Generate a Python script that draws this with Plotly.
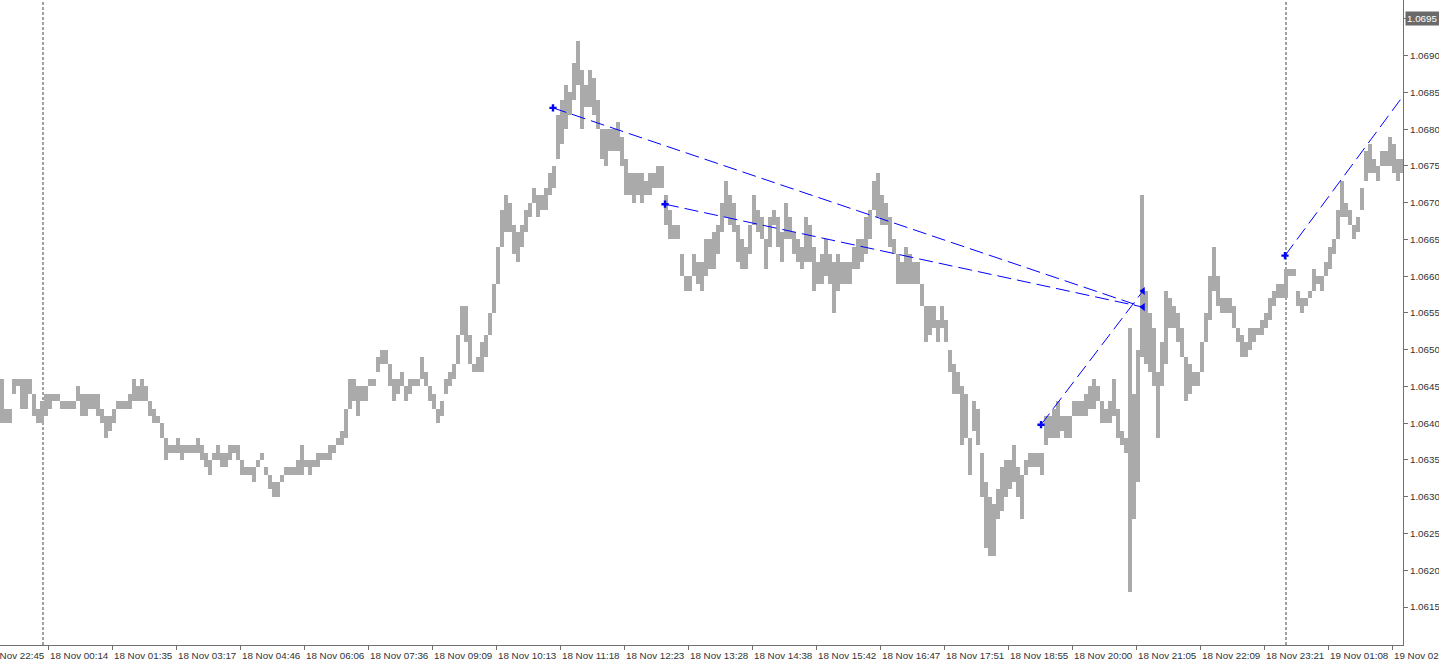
import plotly.graph_objects as go

# ---- data (one entry per 4-pixel group of M1 bars, prices) ----
HIGH = [
    1.0646, 1.0642, 1.0642, 1.0646, 1.0646, 1.0646, 1.0646, 1.0646, 1.0644, 1.0642,
    1.0643, 1.0644, 1.0644, 1.0644, 1.0644, 1.0643, 1.0643, 1.0643, 1.0643, 1.0645,
    1.0644, 1.0644, 1.0644, 1.0644, 1.0644, 1.0642, 1.0641, 1.0641, 1.0642, 1.0643,
    1.0643, 1.0643, 1.0644, 1.0646, 1.0645, 1.0646, 1.0645, 1.0643, 1.0642, 1.0641,
    1.0640, 1.0638, 1.0637, 1.0637, 1.0638, 1.0637, 1.0637, 1.0637, 1.0637, 1.0638,
    1.0637, 1.0636, 1.0635, 1.0636, 1.0637, 1.0636, 1.0636, 1.0637, 1.0637, 1.0637,
    1.0635, 1.0634, 1.0634, 1.0634, 1.0635, 1.0636, 1.0634, 1.0633, 1.0632, 1.0632,
    1.0633, 1.0634, 1.0634, 1.0634, 1.0635, 1.0637, 1.0635, 1.0635, 1.0635, 1.0636,
    1.0636, 1.0636, 1.0637, 1.0637, 1.0638, 1.0639, 1.0642, 1.0646, 1.0646, 1.0645,
    1.0645, 1.0645, 1.0646, 1.0646, 1.0649, 1.0650, 1.0650, 1.0648, 1.0646, 1.0646,
    1.0647, 1.0645, 1.0646, 1.0646, 1.0646, 1.0649, 1.0647, 1.0645, 1.0644, 1.0642,
    1.0643, 1.0646, 1.0647, 1.0648, 1.0652, 1.0656, 1.0656, 1.0652, 1.0648, 1.0649,
    1.0651, 1.0652, 1.0655, 1.0659, 1.0664, 1.0669, 1.0671, 1.0670, 1.0667, 1.0666,
    1.0667, 1.0669, 1.0670, 1.0672, 1.0671, 1.0671, 1.0672, 1.0674, 1.0675, 1.0682,
    1.0684, 1.0686, 1.0685, 1.0689, 1.0692, 1.0688, 1.0686, 1.0688, 1.0687, 1.0684,
    1.0680, 1.0680, 1.0680, 1.0680, 1.0681, 1.0679, 1.0676, 1.0674, 1.0674, 1.0674,
    1.0674, 1.0673, 1.0674, 1.0674, 1.0675, 1.0675, 1.0671, 1.0669, 1.0667, 1.0667,
    1.0663, 1.0660, 1.0660, 1.0663, 1.0662, 1.0662, 1.0665, 1.0665, 1.0666, 1.0667,
    1.0670, 1.0673, 1.0671, 1.0670, 1.0667, 1.0665, 1.0664, 1.0667, 1.0671, 1.0669,
    1.0668, 1.0665, 1.0668, 1.0669, 1.0668, 1.0666, 1.0670, 1.0668, 1.0666, 1.0665,
    1.0664, 1.0668, 1.0667, 1.0664, 1.0662, 1.0663, 1.0665, 1.0663, 1.0662, 1.0663,
    1.0662, 1.0662, 1.0662, 1.0664, 1.0665, 1.0665, 1.0668, 1.0669, 1.0673, 1.0674,
    1.0671, 1.0670, 1.0668, 1.0665, 1.0663, 1.0662, 1.0664, 1.0663, 1.0662, 1.0662,
    1.0659, 1.0656, 1.0656, 1.0656, 1.0654, 1.0656, 1.0654, 1.0650, 1.0648, 1.0647,
    1.0645, 1.0644, 1.0638, 1.0643, 1.0642, 1.0636, 1.0632, 1.0630, 1.0629, 1.0631,
    1.0634, 1.0635, 1.0635, 1.0637, 1.0634, 1.0633, 1.0635, 1.0636, 1.0636, 1.0636,
    1.0636, 1.0641, 1.0641, 1.0642, 1.0643, 1.0641, 1.0641, 1.0641, 1.0643, 1.0643,
    1.0643, 1.0644, 1.0645, 1.0646, 1.0645, 1.0643, 1.0642, 1.0643, 1.0646, 1.0642,
    1.0639, 1.0638, 1.0653, 1.0644, 1.0650, 1.0671, 1.0658, 1.0655, 1.0653, 1.0647,
    1.0651, 1.0658, 1.0657, 1.0656, 1.0655, 1.0653, 1.0649, 1.0648, 1.0647, 1.0647,
    1.0651, 1.0655, 1.0660, 1.0664, 1.0660, 1.0657, 1.0657, 1.0657, 1.0656, 1.0653,
    1.0652, 1.0651, 1.0653, 1.0653, 1.0653, 1.0654, 1.0655, 1.0657, 1.0658, 1.0659,
    1.0659, 1.0661, 1.0661, 1.0661, 1.0658, 1.0657, 1.0657, 1.0658, 1.0661, 1.0660,
    1.0660, 1.0662, 1.0664, 1.0665, 1.0669, 1.0673, 1.0670, 1.0669, 1.0667, 1.0668,
    1.0672, 1.0677, 1.0678, 1.0676, 1.0675, 1.0677, 1.0677, 1.0679, 1.0678, 1.0676,
    1.0676,
]
LOW = [
    1.0640, 1.0640, 1.0640, 1.0644, 1.0645, 1.0642, 1.0642, 1.0644, 1.0641, 1.0640,
    1.0640, 1.0641, 1.0642, 1.0643, 1.0643, 1.0642, 1.0642, 1.0642, 1.0642, 1.0643,
    1.0641, 1.0641, 1.0642, 1.0642, 1.0641, 1.0640, 1.0638, 1.0639, 1.0640, 1.0642,
    1.0642, 1.0642, 1.0642, 1.0643, 1.0643, 1.0643, 1.0643, 1.0641, 1.0640, 1.0640,
    1.0638, 1.0635, 1.0636, 1.0636, 1.0636, 1.0635, 1.0636, 1.0636, 1.0636, 1.0636,
    1.0635, 1.0634, 1.0633, 1.0635, 1.0635, 1.0634, 1.0634, 1.0635, 1.0636, 1.0635,
    1.0633, 1.0633, 1.0633, 1.0632, 1.0634, 1.0635, 1.0633, 1.0631, 1.0630, 1.0630,
    1.0632, 1.0633, 1.0633, 1.0633, 1.0633, 1.0633, 1.0634, 1.0633, 1.0634, 1.0634,
    1.0635, 1.0635, 1.0635, 1.0636, 1.0637, 1.0637, 1.0638, 1.0642, 1.0643, 1.0641,
    1.0643, 1.0643, 1.0645, 1.0645, 1.0647, 1.0648, 1.0648, 1.0645, 1.0643, 1.0644,
    1.0645, 1.0643, 1.0644, 1.0645, 1.0645, 1.0646, 1.0645, 1.0643, 1.0642, 1.0640,
    1.0641, 1.0644, 1.0645, 1.0646, 1.0648, 1.0652, 1.0651, 1.0648, 1.0647, 1.0647,
    1.0647, 1.0649, 1.0652, 1.0655, 1.0659, 1.0664, 1.0666, 1.0666, 1.0663, 1.0662,
    1.0664, 1.0666, 1.0668, 1.0670, 1.0668, 1.0669, 1.0669, 1.0671, 1.0672, 1.0676,
    1.0678, 1.0680, 1.0682, 1.0684, 1.0686, 1.0680, 1.0683, 1.0683, 1.0682, 1.0680,
    1.0676, 1.0675, 1.0677, 1.0677, 1.0677, 1.0675, 1.0671, 1.0671, 1.0670, 1.0671,
    1.0670, 1.0671, 1.0671, 1.0672, 1.0672, 1.0672, 1.0667, 1.0665, 1.0665, 1.0665,
    1.0660, 1.0658, 1.0658, 1.0660, 1.0659, 1.0658, 1.0660, 1.0661, 1.0661, 1.0663,
    1.0666, 1.0668, 1.0667, 1.0666, 1.0662, 1.0661, 1.0661, 1.0663, 1.0667, 1.0666,
    1.0665, 1.0661, 1.0664, 1.0667, 1.0664, 1.0662, 1.0665, 1.0665, 1.0663, 1.0662,
    1.0661, 1.0662, 1.0662, 1.0658, 1.0659, 1.0659, 1.0660, 1.0659, 1.0655, 1.0658,
    1.0659, 1.0659, 1.0659, 1.0661, 1.0661, 1.0662, 1.0663, 1.0665, 1.0669, 1.0668,
    1.0667, 1.0667, 1.0664, 1.0663, 1.0659, 1.0659, 1.0659, 1.0659, 1.0659, 1.0659,
    1.0656, 1.0651, 1.0652, 1.0653, 1.0651, 1.0653, 1.0651, 1.0647, 1.0644, 1.0644,
    1.0637, 1.0638, 1.0633, 1.0639, 1.0637, 1.0630, 1.0623, 1.0622, 1.0622, 1.0627,
    1.0628, 1.0630, 1.0631, 1.0632, 1.0630, 1.0627, 1.0633, 1.0634, 1.0634, 1.0634,
    1.0633, 1.0637, 1.0638, 1.0638, 1.0638, 1.0639, 1.0638, 1.0638, 1.0641, 1.0641,
    1.0641, 1.0641, 1.0642, 1.0642, 1.0643, 1.0640, 1.0640, 1.0640, 1.0641, 1.0638,
    1.0637, 1.0636, 1.0617, 1.0627, 1.0632, 1.0649, 1.0648, 1.0647, 1.0645, 1.0638,
    1.0645, 1.0648, 1.0653, 1.0653, 1.0651, 1.0649, 1.0643, 1.0644, 1.0645, 1.0645,
    1.0647, 1.0651, 1.0654, 1.0658, 1.0656, 1.0655, 1.0655, 1.0655, 1.0653, 1.0651,
    1.0649, 1.0649, 1.0650, 1.0651, 1.0652, 1.0652, 1.0653, 1.0654, 1.0656, 1.0657,
    1.0657, 1.0657, 1.0660, 1.0660, 1.0656, 1.0655, 1.0656, 1.0657, 1.0658, 1.0659,
    1.0658, 1.0660, 1.0661, 1.0663, 1.0665, 1.0668, 1.0668, 1.0667, 1.0665, 1.0666,
    1.0669, 1.0673, 1.0674, 1.0674, 1.0673, 1.0675, 1.0675, 1.0675, 1.0674, 1.0673,
    1.0674,
]

# time-axis labels (first one sits just left of the visible window)
TICK_LABELS = [
    "17 Nov 22:45", "18 Nov 00:14", "18 Nov 01:35", "18 Nov 03:17", "18 Nov 04:46",
    "18 Nov 06:06", "18 Nov 07:36", "18 Nov 09:09", "18 Nov 10:13", "18 Nov 11:18",
    "18 Nov 12:23", "18 Nov 13:28", "18 Nov 14:38", "18 Nov 15:42", "18 Nov 16:47",
    "18 Nov 17:51", "18 Nov 18:55", "18 Nov 20:00", "18 Nov 21:05", "18 Nov 22:09",
    "18 Nov 23:21", "19 Nov 01:08", "19 Nov 02:22",
]
FIRST_TICK_BAR = -4.5
TICK_STEP_BARS = 16

PRICE_TICKS = [1.0615, 1.0620, 1.0625, 1.0630, 1.0635, 1.0640, 1.0645, 1.0650,
               1.0655, 1.0660, 1.0665, 1.0670, 1.0675, 1.0680, 1.0685, 1.0690, 1.0695]
MARKED_PRICE = 1.0695

DAY_SEPARATORS = [10.25, 321.0]   # bar positions of 18 Nov 00:00 and 19 Nov 00:00

# trend lines: (bar, price) pairs
TREND_LINES = [
    ([137.75, 285.25], [1.06829, 1.06558]),
    ([165.75, 285.25], [1.06698, 1.06558]),
    ([259.75, 285.25], [1.06398, 1.06580]),
    ([320.75, 350.25], [1.06628, 1.06845]),
]
ARROW_BARS = [285.25, 285.25]
ARROW_PRICES = [1.06580, 1.06558]

X_RANGE = [-0.5, 350.25]
Y_RANGE = [1.060983, 1.069758]

# ---- figure ----
FONT = "Liberation Sans, Arial, sans-serif"
FONT_SIZE = 9.8
TEXT_COLOR = "#333333"
AXIS_COLOR = "#707070"
BAR_COLOR = "#aaaaaa"
BLUE = "#0000ff"

idx = list(range(len(HIGH)))
fig = go.Figure()
fig.add_trace(go.Bar(
    x=idx, y=[h - l for h, l in zip(HIGH, LOW)], base=LOW, width=0.88,
    marker=dict(color=BAR_COLOR, line=dict(width=0)), hoverinfo="skip",
))
for bx, py in TREND_LINES:
    fig.add_trace(go.Scatter(
        x=bx, y=py, mode="lines", line=dict(color=BLUE, width=1, dash="14px,6px"),
        hoverinfo="skip",
    ))
fig.add_trace(go.Scatter(
    x=[t[0][0] for t in TREND_LINES], y=[t[1][0] for t in TREND_LINES], mode="markers",
    marker=dict(symbol="cross", size=6, color=BLUE, line=dict(width=0)), hoverinfo="skip",
))
fig.add_trace(go.Scatter(
    x=ARROW_BARS, y=ARROW_PRICES, mode="markers",
    marker=dict(symbol="triangle-left", size=7, color=BLUE, line=dict(width=0)),
    hoverinfo="skip",
))

for b in DAY_SEPARATORS:
    fig.add_shape(type="line", xref="x", yref="paper", x0=b, x1=b, y0=0, y1=1,
                  line=dict(color="#444444", width=1, dash="3px,2px"), layer="below")

tick_bars = [FIRST_TICK_BAR + TICK_STEP_BARS * i for i in range(len(TICK_LABELS))]
span = X_RANGE[1] - X_RANGE[0]
for b, lab in zip(tick_bars, TICK_LABELS):
    fig.add_annotation(x=(b - X_RANGE[0]) / span, xref="paper", y=0, yref="paper",
                       text=lab, showarrow=False, xanchor="left", yanchor="top",
                       xshift=0, yshift=-3,
                       font=dict(family=FONT, size=FONT_SIZE, color=TEXT_COLOR))

fig.add_annotation(x=1, xref="paper", y=MARKED_PRICE, yref="y", text=f"{MARKED_PRICE:.4f}",
                   showarrow=False, xanchor="left", yanchor="middle", xshift=2,
                   bgcolor="#6a6a6a", borderpad=1,
                   font=dict(family=FONT, size=FONT_SIZE, color="#ffffff"))

price_text = ["" if p == MARKED_PRICE else f"{p:.4f}" for p in PRICE_TICKS]

fig.update_layout(
    width=1439, height=662,
    margin=dict(l=0, r=36, t=0, b=17),
    paper_bgcolor="white", plot_bgcolor="white",
    showlegend=False, bargap=0,
    font=dict(family=FONT, size=FONT_SIZE, color=TEXT_COLOR),
    xaxis=dict(range=X_RANGE, tickvals=tick_bars, showticklabels=False, ticks="outside",
               ticklen=4, tickcolor=AXIS_COLOR, showline=True, linecolor=AXIS_COLOR,
               linewidth=1, showgrid=False, zeroline=False, fixedrange=True),
    yaxis=dict(range=Y_RANGE, side="right", tickvals=PRICE_TICKS, ticktext=price_text,
               ticks="outside", ticklen=4, tickcolor=AXIS_COLOR, showline=True,
               linecolor=AXIS_COLOR, linewidth=1, showgrid=False, zeroline=False,
               fixedrange=True,
               tickfont=dict(family=FONT, size=FONT_SIZE, color=TEXT_COLOR)),
)

fig.write_html("out.html", config={"displayModeBar": False},
               post_script="document.body.style.margin='0';")
